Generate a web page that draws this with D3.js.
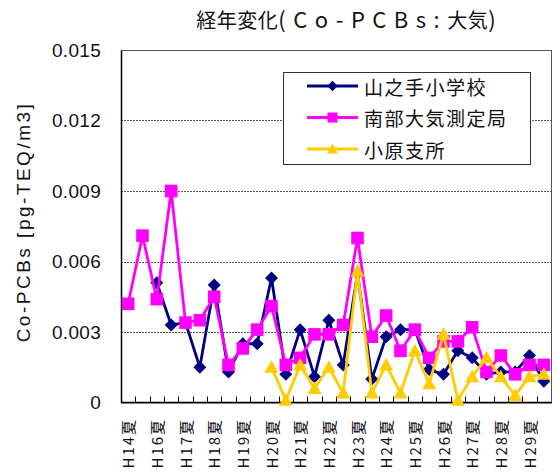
<!DOCTYPE html>
<html>
<head>
<meta charset="utf-8">
<script src="https://cdn.jsdelivr.net/npm/d3@7/dist/d3.min.js"></script>
<style>
  body { margin: 0; background: #fff; }
  text { font-family: "Noto Sans CJK JP", "Liberation Sans", sans-serif; fill: #111; }
</style>
</head>
<body>
<svg id="chart" width="558" height="475"></svg>
<script>
// Survey rounds (summer / winter per fiscal year)
const categories = [
  "H14夏","H14冬","H16夏","H16冬","H17夏","H17冬","H18夏","H18冬","H19夏","H19冬",
  "H20夏","H20冬","H21夏","H21冬","H22夏","H22冬","H23夏","H23冬","H24夏","H24冬",
  "H25夏","H25冬","H26夏","H26冬","H27夏","H27冬","H28夏","H28冬","H29夏","H29冬"
];
// Labels shown on the axis (every other round)
const tickLabels = categories.filter((d, i) => i % 2 === 0);

// Co-PCBs concentration, pg-TEQ/m3
const yamanote = [null, null, 0.0051, 0.0033, 0.0034, 0.0015, 0.0050, 0.0013, 0.0025, 0.0025,
  0.0053, 0.0012, 0.0031, 0.0011, 0.0035, 0.0016, 0.0055, 0.0010, 0.0028, 0.0031,
  0.0031, 0.0014, 0.0012, 0.0022, 0.0019, 0.0012, 0.0013, 0.0013, 0.0020, 0.0009];
const nanbu = [0.0042, 0.0071, 0.0044, 0.0090, 0.0034, 0.0035, 0.0045, 0.0016, 0.0023, 0.0031,
  0.0041, 0.0016, 0.0019, 0.0029, 0.0029, 0.0033, 0.0070, 0.0028, 0.0037, 0.0022,
  0.0031, 0.0019, 0.0026, 0.0026, 0.0032, 0.0013, 0.0020, 0.0012, 0.0016, 0.0016];
const ohara = [null, null, null, null, null, null, null, null, null, null,
  0.0015, 0.0001, 0.0016, 0.0006, 0.0015, 0.0004, 0.0056, 0.0004, 0.0016, 0.0004,
  0.0022, 0.0008, 0.0029, 0.0001, 0.0011, 0.0019, 0.0011, 0.0003, 0.0011, 0.0012];

const seriesNames = ["山之手小学校", "南部大気測定局", "小原支所"];
const yTicks = [0, 0.003, 0.006, 0.009, 0.012, 0.015];
const yTickLabels = ["0", "0.003", "0.006", "0.009", "0.012", "0.015"];

const series = [
  { name: seriesNames[0], values: yamanote, color: "#000080", shape: "diamond" },
  { name: seriesNames[1], values: nanbu,    color: "#FF00FF", shape: "square" },
  { name: seriesNames[2], values: ohara,    color: "#FFCC00", shape: "triangle" }
];

const svg = d3.select("#chart");
const plot = { left: 121, right: 551, top: 50, bottom: 402.5 };

const x = d3.scaleBand().domain(categories).range([plot.left, plot.right]);
const y = d3.scaleLinear().domain([0, 0.015]).range([plot.bottom, plot.top]);

// Title: Latin part set in larger, wider type
const title = svg.append("text")
  .attr("x", 346).attr("y", 28)
  .attr("text-anchor", "middle")
  .style("font-size", "20px");
[["経年変化", 20, 0.5], ["(Co-PCBs:", 22, 7.5], ["大気", 20, 0.5], [")", 22, 0]].forEach(([t, fs, ls]) => {
  title.append("tspan")
    .style("font-size", fs + "px")
    .style("letter-spacing", ls + "px")
    .text(t);
});

// Dashed gridlines
svg.append("g").selectAll("line")
  .data(yTicks.slice(1, -1))
  .join("line")
  .attr("x1", plot.left).attr("x2", plot.right)
  .attr("y1", d => Math.round(y(d)) + 0.5).attr("y2", d => Math.round(y(d)) + 0.5)
  .attr("stroke", "#555").attr("stroke-width", 1)
  .attr("stroke-dasharray", "2,1");

// Plot frame
svg.append("rect")
  .attr("x", plot.left + 0.5).attr("y", plot.top + 0.5)
  .attr("width", plot.right - plot.left).attr("height", plot.bottom - plot.top)
  .attr("fill", "none").attr("stroke", "#555").attr("stroke-width", 1);

// Y axis
const yAxis = d3.axisLeft(y).tickValues(yTicks)
  .tickFormat((d, i) => yTickLabels[i]).tickSize(0).tickPadding(20);
const gy = svg.append("g").attr("transform", `translate(${plot.left},0)`).call(yAxis);
gy.select(".domain").attr("stroke", "#000").attr("stroke-width", 1.5);
gy.selectAll("text")
  .style("font-size", "19px")
  .style("letter-spacing", "0.3px")
  .style("font-family", "'Liberation Sans', sans-serif")
  .attr("fill", "#222");

// X axis: inside ticks between categories, labels every other round
const gx = svg.append("g").attr("transform", `translate(0,${plot.bottom})`);
gx.append("line").attr("x1", plot.left).attr("x2", plot.right + 1)
  .attr("stroke", "#000").attr("stroke-width", 1.5);
gx.selectAll("line.tick")
  .data(categories.slice(1))
  .join("line").attr("class", "tick")
  .attr("x1", d => Math.round(x(d)) + 0.5).attr("x2", d => Math.round(x(d)) + 0.5)
  .attr("y1", 0).attr("y2", -6)
  .attr("stroke", "#000");
gx.selectAll("text")
  .data(tickLabels)
  .join("text")
  .attr("transform", d => `translate(${x(d) + x.bandwidth() / 2 + 2},${66}) rotate(-90)`)
  .attr("dominant-baseline", "middle")
  .style("font-size", "15px")
  .style("letter-spacing", "2px")
  .text(d => d);

// Y axis title
svg.append("text")
  .attr("transform", "translate(25,222) rotate(-90)")
  .attr("text-anchor", "middle")
  .attr("dominant-baseline", "middle")
  .style("font-size", "19px")
  .style("font-family", "'Liberation Sans', sans-serif")
  .style("letter-spacing", "2.5px")
  .text("Co-PCBs [pg-TEQ/m3]");

// Marker shapes
function markerPath(shape) {
  if (shape === "diamond") return "M0,-6.5L6.5,0L0,6.5L-6.5,0Z";
  if (shape === "square") return "M-6.3,-6.3H6.3V6.3H-6.3Z";
  return "M0,-7L7,5.5H-7Z";
}

const cx = d => x(d) + x.bandwidth() / 2;
const line = d3.line()
  .defined(d => d.v !== null)
  .x(d => cx(d.c)).y(d => y(d.v));

series.forEach(s => {
  const pts = categories.map((c, i) => ({ c, v: s.values[i] }));
  const g = svg.append("g");
  g.append("path")
    .datum(pts)
    .attr("d", line)
    .attr("fill", "none")
    .attr("stroke", s.color)
    .attr("stroke-width", 2.8)
    .attr("stroke-linejoin", "round");
  g.selectAll("path.m")
    .data(pts.filter(d => d.v !== null))
    .join("path").attr("class", "m")
    .attr("transform", d => `translate(${cx(d.c)},${y(d.v)})`)
    .attr("d", markerPath(s.shape))
    .attr("fill", s.color);
});

// Legend
const lg = svg.append("g");
lg.append("rect")
  .attr("x", 283.5).attr("y", 72.5).attr("width", 247).attr("height", 92)
  .attr("fill", "#fff").attr("stroke", "#333").attr("stroke-width", 1);
series.forEach((s, i) => {
  const ly = 86 + i * 31.5;
  lg.append("line").attr("x1", 307).attr("x2", 358).attr("y1", ly).attr("y2", ly)
    .attr("stroke", s.color).attr("stroke-width", 2.8);
  lg.append("path")
    .attr("d", markerPath(s.shape)).attr("fill", s.color)
    .attr("transform", `translate(332.5,${ly}) scale(0.8)`);
  lg.append("text").attr("x", 364).attr("y", ly)
    .attr("dominant-baseline", "central")
    .style("font-size", "19px")
    .style("letter-spacing", "1.5px")
    .text(s.name);
});
</script>
</body>
</html>
